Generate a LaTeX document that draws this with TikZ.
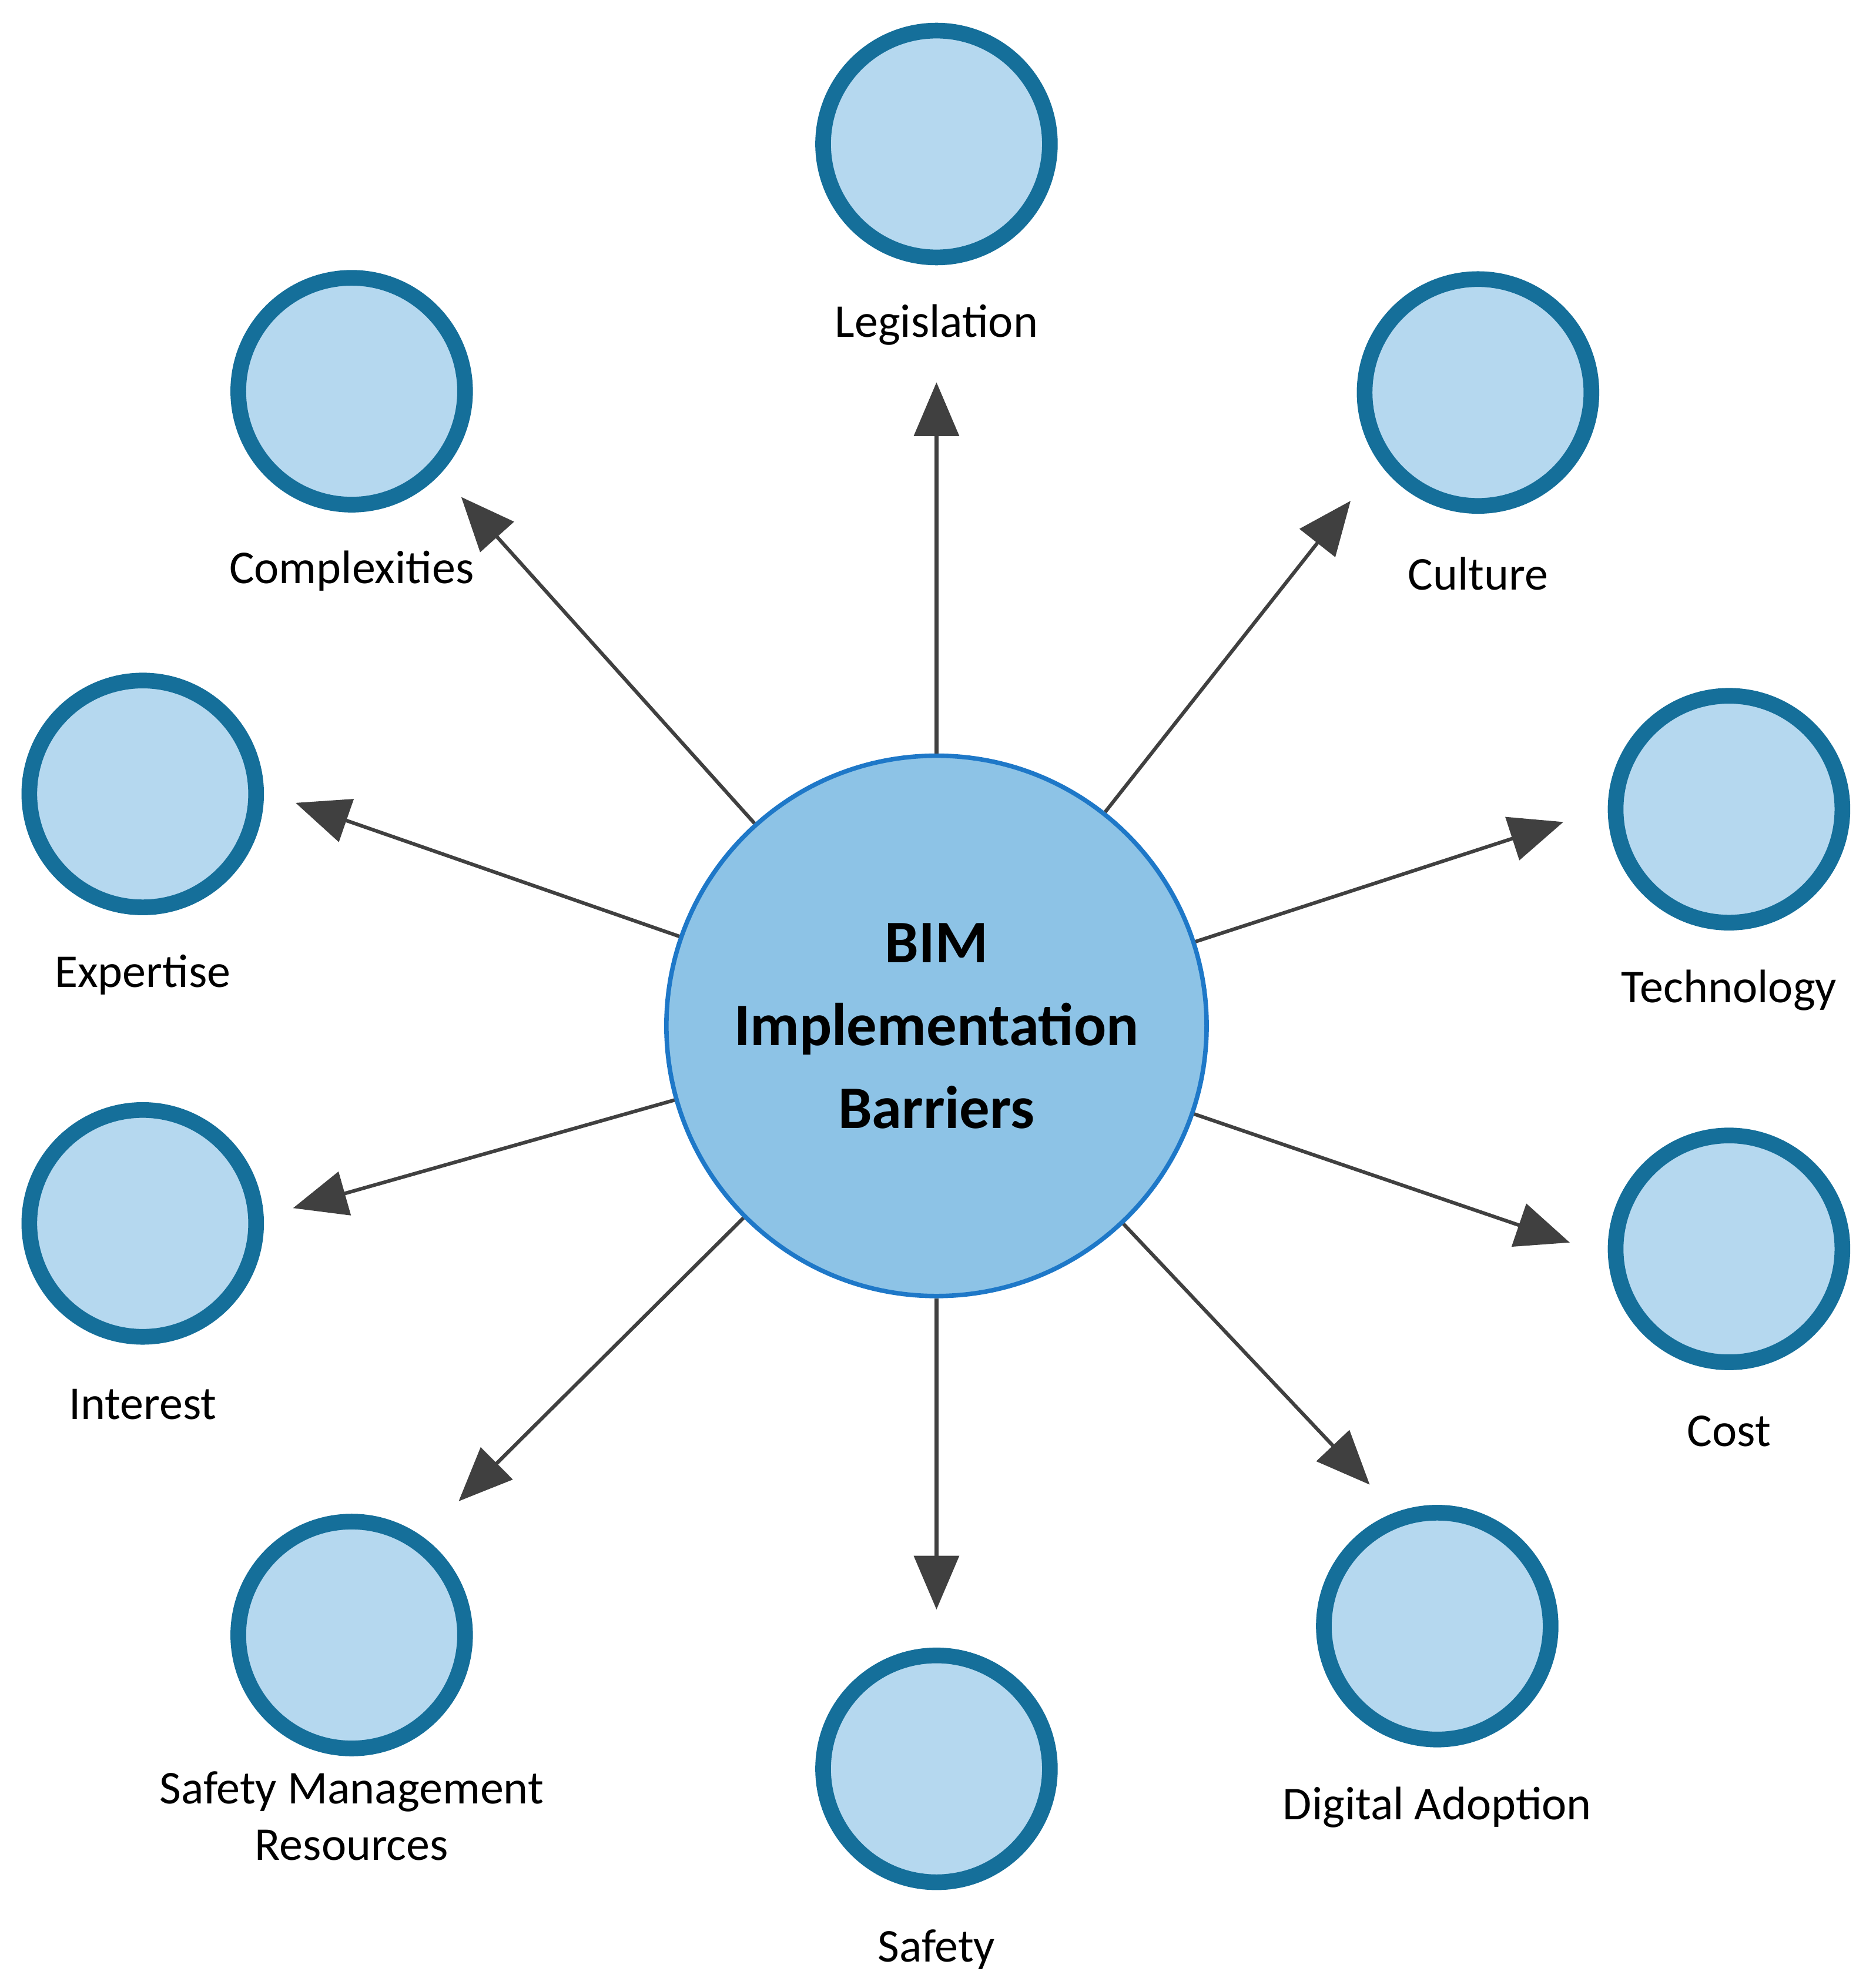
\documentclass[tikz,border=0pt]{standalone}
\usepackage{fontspec}
\setmainfont{Carlito}
\usetikzlibrary{arrows.meta}
\begin{document}
\begin{tikzpicture}[x=0.02cm,y=-0.02cm,
  small/.style={circle,draw=cBorder,fill=cFill,line width=7pt,minimum size=178*0.02cm,inner sep=0pt},
  lbl/.style={font=\fontsize{21}{25}\selectfont,align=center},
  arr/.style={draw=cArrow,line width=1.6pt,-{Triangle[length=24pt,width=20pt]}}]
\definecolor{cBorder}{HTML}{156F9A}
\definecolor{cFill}{HTML}{B5D8EF}
\definecolor{cMain}{HTML}{8DC3E6}
\definecolor{cMainB}{HTML}{1E78C8}
\definecolor{cArrow}{HTML}{404040}
\useasboundingbox (0,0) rectangle (1472,1560);
\node[circle,draw=cMainB,fill=cMain,line width=2pt,minimum size=424*0.02cm,inner sep=0pt,
  font=\bfseries\fontsize{27}{37}\selectfont,align=center] (c) at (735,805) {BIM\\Implementation\\Barriers};
\node[small] (n1) at (735,113) {};
\node[small] (n2) at (276,307) {};
\node[small] (n3) at (1160,308) {};
\node[small] (n4) at (112,623) {};
\node[small] (n5) at (1357,635) {};
\node[small] (n6) at (112,960) {};
\node[small] (n7) at (1357,980) {};
\node[small] (n8) at (276,1283) {};
\node[small] (n9) at (1128,1276) {};
\node[small] (n10) at (735,1388) {};
\node[lbl] (l1) at (735,255) {Legislation};
\node[lbl] (l2) at (276,448) {Complexities};
\node[lbl] (l3) at (1160,450) {Culture};
\node[lbl] (l4) at (112,765) {Expertise};
\node[lbl] (l5) at (1357,777) {Technology};
\node[lbl] (l6) at (112,1102) {Interest};
\node[lbl] (l7) at (1357,1123) {Cost};
\node[lbl] (l8) at (276,1425) {Safety Management\\Resources};
\node[lbl] (l9) at (1128,1418) {Digital Adoption};
\node[lbl] (l10) at (735,1530) {Safety};
\coordinate (e1) at (735,300);
\coordinate (e2) at (362,390);
\coordinate (e3) at (1060,393);
\coordinate (e4) at (232,630);
\coordinate (e5) at (1227,645);
\coordinate (e6) at (230,948);
\coordinate (e7) at (1232,975);
\coordinate (e8) at (360,1178);
\coordinate (e9) at (1075,1165);
\coordinate (e10) at (735,1263);
\foreach \i in {1,...,10} \draw[arr] (c) -- (e\i);
\end{tikzpicture}
\end{document}
